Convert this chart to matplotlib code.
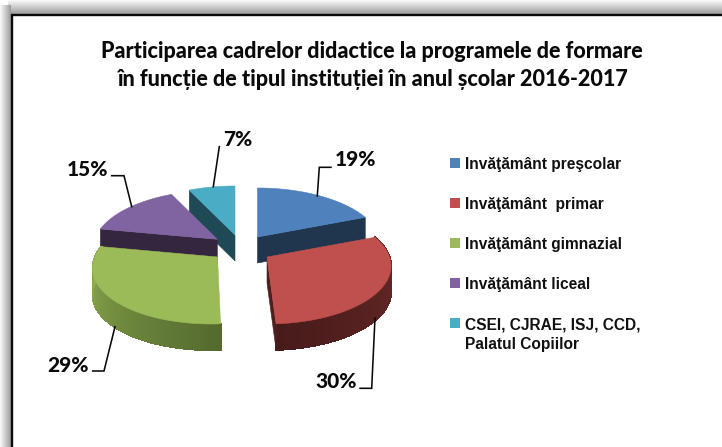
import numpy as np
import matplotlib
matplotlib.use("Agg")
import matplotlib.pyplot as plt
from matplotlib.patches import Polygon, Rectangle
from matplotlib.collections import PolyCollection
from matplotlib.colors import to_rgb

categories = ["Invăţământ preşcolar", "Invăţământ  primar", "Invăţământ gimnazial",
              "Invăţământ liceal", "CSEI, CJRAE, ISJ, CCD,\nPalatul Copiilor"]
shares = [19, 30, 29, 15, 7]
share_labels = ["19%", "30%", "29%", "15%", "7%"]
title_lines = ["Participarea cadrelor didactice la programele de formare",
               "în funcție de tipul instituției în anul școlar 2016-2017"]

colors = ["#4f81bd", "#c0504d", "#9bbb59", "#8064a2", "#4bacc6"]
cut_colors = ["#20364f", "#4f1e1d", "#566a30", "#35263f", "#1f4a55"]
apex = [(257.5, 237), (267, 257), (217.5, 257), (217.3, 239.3), (235, 235)]
shear = [0, 0, -0.09, 0, 0]
draw_order = [0, 4, 3, 2, 1]
cut_at_end = {0: True, 1: True, 3: False, 4: False}
wall_grad = {1: ("#6e2c2a", "#481b1b"), 2: ("#546a2e", "#94b253")}
leaders = [[(317.3, 196), (319.3, 167.3), (331, 167.3)],
           [(375, 318), (371.7, 388.3), (360, 388.3)],
           [(115, 326.7), (104, 371), (92.7, 371)],
           [(131.7, 206.7), (124, 175.7), (111.7, 175.7)],
           [(213.3, 186.7), (219.3, 146.7)]]
label_pos = [(356, 160), (336, 382), (68, 365), (88, 169), (238, 140)]
legend_y = [163, 203, 243, 283, 323]

A, B, K, DEPTH = 122.5, 56.6, 0.155, 26


def project(theta, center, s):
    u, v = np.sin(theta), np.cos(theta)
    w = 1 + K * v
    dy = -B * v / w
    return np.column_stack([center[0] + A * u / w + s * dy, center[1] + dy])


fig = plt.figure(figsize=(7.22, 4.47), dpi=100, facecolor="white")
ax = fig.add_axes([0, 0, 1, 1])
ax.axis("off")

# frame shadow
top = np.linspace(0.97, 0.62, 14)[:, None]
left = np.linspace(0.97, 0.62, 11)[None, :]
ax.imshow(top, extent=(8, 722, 14, 0), cmap="gray", vmin=0, vmax=1, aspect="auto", zorder=0)
ax.imshow(left, extent=(0, 11, 447, 5), cmap="gray", vmin=0, vmax=1, aspect="auto", zorder=0)
ax.set_xlim(0, 722)
ax.set_ylim(447, 0)
ax.plot([12, 12, 722], [447, 14.5, 14.5], color="#0a0a0a", lw=1.7, solid_joinstyle="miter", zorder=1)

edges = np.cumsum([0] + shares) / sum(shares) * 2 * np.pi
for i in draw_order:
    t = np.linspace(edges[i], edges[i + 1], 90)
    c = np.array(apex[i])
    rim = project(t, c, shear[i])
    low = rim + [0, DEPTH]
    if i in wall_grad:
        c0, c1 = map(np.array, map(to_rgb, wall_grad[i]))
        quads = [[rim[j], rim[j + 1], low[j + 1], low[j]] for j in range(len(t) - 1)]
        f = np.linspace(0, 1, len(quads))[:, None]
        cols = c0 * (1 - f) + c1 * f
        ax.add_collection(PolyCollection(quads, facecolors=cols, edgecolors=cols, linewidths=0.8,
                                         antialiaseds=False, zorder=3))
    if i in cut_at_end:
        edge_pt = rim[-1] if cut_at_end[i] else rim[0]
        ax.add_patch(Polygon([c, edge_pt, edge_pt + [0, DEPTH], c + [0, DEPTH]],
                             closed=True, fc=cut_colors[i], ec=cut_colors[i], lw=0.4, zorder=3))
    ax.add_patch(Polygon(np.vstack([c, rim]), closed=True, fc=colors[i], ec=colors[i], lw=0.4, zorder=3))

for path in leaders:
    xs, ys = zip(*path)
    ax.plot(xs, ys, color="#0a0a0a", lw=1.15, solid_joinstyle="miter", zorder=4)

calibri = ["Lato", "Open Sans", "DejaVu Sans"]
for (x, y), s in zip(label_pos, share_labels):
    ax.text(x, y, s, ha="center", va="center", fontsize=15, fontweight=900,
            family=calibri, color="#0a0a0a", zorder=5)

for k, line in enumerate(title_lines):
    ax.text(372, 51 + 29 * k, line, ha="center", va="center", fontsize=15.5, fontweight=900,
            family=calibri, color="#0a0a0a", zorder=5)

for y, name, col in zip(legend_y, categories, colors):
    ax.add_patch(Rectangle((450, y - 5), 10, 10, fc=col, ec="none", zorder=5))
    ax.text(465, y - 6, name, ha="left", va="top", fontsize=11.2,
            fontweight="bold", family="Liberation Sans", color="#111111", linespacing=1.42, zorder=5)

fig.savefig("out.png", dpi=100)
